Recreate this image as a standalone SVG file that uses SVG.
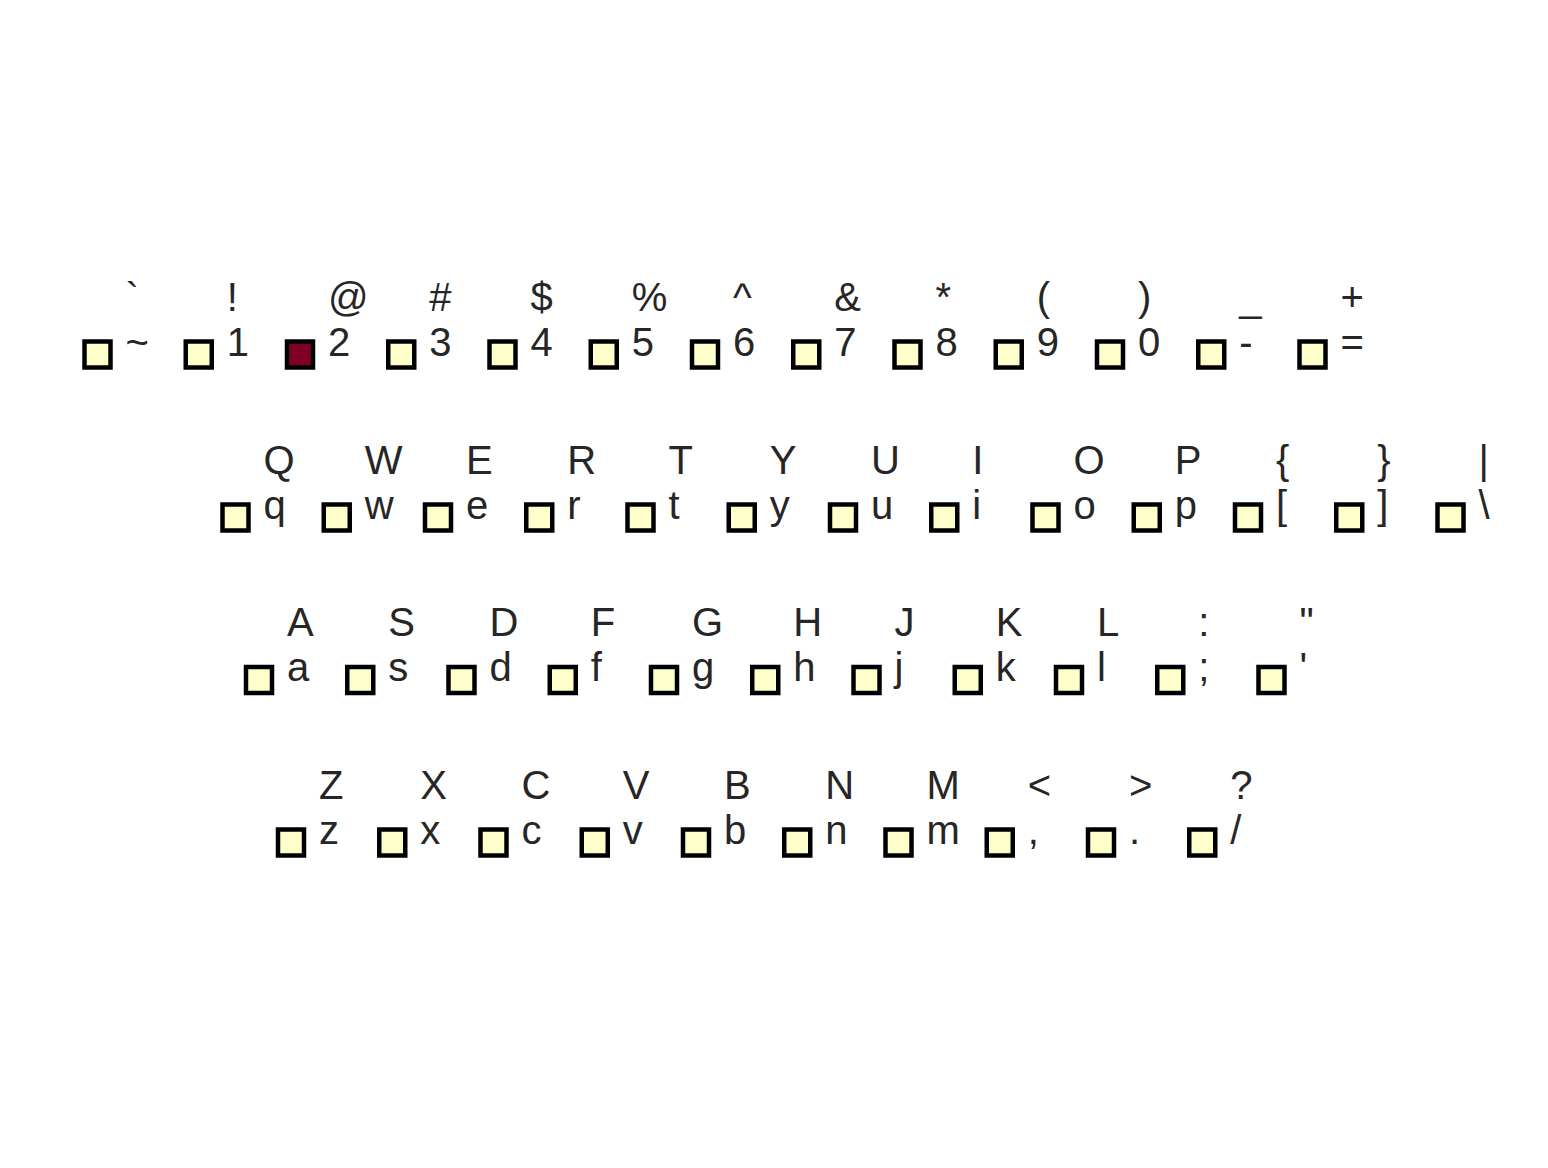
<svg xmlns="http://www.w3.org/2000/svg" width="1548" height="1168" viewBox="0 0 1548 1168">
<style>
.k{fill:#ffffcc;stroke:#000;stroke-width:4.5}
.hot{fill:#800026}
text{font-family:"Liberation Sans",Arial,sans-serif;font-size:40px;fill:#262626}
</style>
<rect width="1548" height="1168" fill="#fff"/>
<g id="connectors"/>
<g id="row1">
<g id="key-tilde"><rect class="k" x="84.5" y="341.5" width="26" height="26"/><text x="125.5" y="310.5">`</text><text x="125.5" y="355.5">~</text></g>
<g id="key-1"><rect class="k" x="185.75" y="341.5" width="26" height="26"/><text x="226.75" y="310.5">!</text><text x="226.75" y="355.5">1</text></g>
<g id="key-2"><rect class="k hot" x="287" y="341.5" width="26" height="26"/><text x="328" y="310.5">@</text><text x="328" y="355.5">2</text></g>
<g id="key-3"><rect class="k" x="388.25" y="341.5" width="26" height="26"/><text x="429.25" y="310.5">#</text><text x="429.25" y="355.5">3</text></g>
<g id="key-4"><rect class="k" x="489.5" y="341.5" width="26" height="26"/><text x="530.5" y="310.5">$</text><text x="530.5" y="355.5">4</text></g>
<g id="key-5"><rect class="k" x="590.75" y="341.5" width="26" height="26"/><text x="631.75" y="310.5">%</text><text x="631.75" y="355.5">5</text></g>
<g id="key-6"><rect class="k" x="692" y="341.5" width="26" height="26"/><text x="733" y="310.5">^</text><text x="733" y="355.5">6</text></g>
<g id="key-7"><rect class="k" x="793.25" y="341.5" width="26" height="26"/><text x="834.25" y="310.5">&amp;</text><text x="834.25" y="355.5">7</text></g>
<g id="key-8"><rect class="k" x="894.5" y="341.5" width="26" height="26"/><text x="935.5" y="310.5">*</text><text x="935.5" y="355.5">8</text></g>
<g id="key-9"><rect class="k" x="995.75" y="341.5" width="26" height="26"/><text x="1036.75" y="310.5">(</text><text x="1036.75" y="355.5">9</text></g>
<g id="key-0"><rect class="k" x="1097" y="341.5" width="26" height="26"/><text x="1138" y="310.5">)</text><text x="1138" y="355.5">0</text></g>
<g id="key-minus"><rect class="k" x="1198.25" y="341.5" width="26" height="26"/><text x="1239.25" y="310.5">_</text><text x="1239.25" y="355.5">-</text></g>
<g id="key-equals"><rect class="k" x="1299.5" y="341.5" width="26" height="26"/><text x="1340.5" y="310.5">+</text><text x="1340.5" y="355.5">=</text></g>
</g>
<g id="row2">
<g id="key-q"><rect class="k" x="222.5" y="504.5" width="26" height="26"/><text x="263.5" y="473.5">Q</text><text x="263.5" y="518.5">q</text></g>
<g id="key-w"><rect class="k" x="323.75" y="504.5" width="26" height="26"/><text x="364.75" y="473.5">W</text><text x="364.75" y="518.5">w</text></g>
<g id="key-e"><rect class="k" x="425" y="504.5" width="26" height="26"/><text x="466" y="473.5">E</text><text x="466" y="518.5">e</text></g>
<g id="key-r"><rect class="k" x="526.25" y="504.5" width="26" height="26"/><text x="567.25" y="473.5">R</text><text x="567.25" y="518.5">r</text></g>
<g id="key-t"><rect class="k" x="627.5" y="504.5" width="26" height="26"/><text x="668.5" y="473.5">T</text><text x="668.5" y="518.5">t</text></g>
<g id="key-y"><rect class="k" x="728.75" y="504.5" width="26" height="26"/><text x="769.75" y="473.5">Y</text><text x="769.75" y="518.5">y</text></g>
<g id="key-u"><rect class="k" x="830" y="504.5" width="26" height="26"/><text x="871" y="473.5">U</text><text x="871" y="518.5">u</text></g>
<g id="key-i"><rect class="k" x="931.25" y="504.5" width="26" height="26"/><text x="972.25" y="473.5">I</text><text x="972.25" y="518.5">i</text></g>
<g id="key-o"><rect class="k" x="1032.5" y="504.5" width="26" height="26"/><text x="1073.5" y="473.5">O</text><text x="1073.5" y="518.5">o</text></g>
<g id="key-p"><rect class="k" x="1133.75" y="504.5" width="26" height="26"/><text x="1174.75" y="473.5">P</text><text x="1174.75" y="518.5">p</text></g>
<g id="key-lbracket"><rect class="k" x="1235" y="504.5" width="26" height="26"/><text x="1276" y="473.5">{</text><text x="1276" y="518.5">[</text></g>
<g id="key-rbracket"><rect class="k" x="1336.25" y="504.5" width="26" height="26"/><text x="1377.25" y="473.5">}</text><text x="1377.25" y="518.5">]</text></g>
<g id="key-backslash"><rect class="k" x="1437.5" y="504.5" width="26" height="26"/><text x="1478.5" y="473.5">|</text><text x="1478.5" y="518.5">\</text></g>
</g>
<g id="row3">
<g id="key-a"><rect class="k" x="246" y="667" width="26" height="26"/><text x="287" y="636">A</text><text x="287" y="681">a</text></g>
<g id="key-s"><rect class="k" x="347.25" y="667" width="26" height="26"/><text x="388.25" y="636">S</text><text x="388.25" y="681">s</text></g>
<g id="key-d"><rect class="k" x="448.5" y="667" width="26" height="26"/><text x="489.5" y="636">D</text><text x="489.5" y="681">d</text></g>
<g id="key-f"><rect class="k" x="549.75" y="667" width="26" height="26"/><text x="590.75" y="636">F</text><text x="590.75" y="681">f</text></g>
<g id="key-g"><rect class="k" x="651" y="667" width="26" height="26"/><text x="692" y="636">G</text><text x="692" y="681">g</text></g>
<g id="key-h"><rect class="k" x="752.25" y="667" width="26" height="26"/><text x="793.25" y="636">H</text><text x="793.25" y="681">h</text></g>
<g id="key-j"><rect class="k" x="853.5" y="667" width="26" height="26"/><text x="894.5" y="636">J</text><text x="894.5" y="681">j</text></g>
<g id="key-k"><rect class="k" x="954.75" y="667" width="26" height="26"/><text x="995.75" y="636">K</text><text x="995.75" y="681">k</text></g>
<g id="key-l"><rect class="k" x="1056" y="667" width="26" height="26"/><text x="1097" y="636">L</text><text x="1097" y="681">l</text></g>
<g id="key-semicolon"><rect class="k" x="1157.25" y="667" width="26" height="26"/><text x="1198.25" y="636">:</text><text x="1198.25" y="681">;</text></g>
<g id="key-quote"><rect class="k" x="1258.5" y="667" width="26" height="26"/><text x="1299.5" y="636">"</text><text x="1299.5" y="681">'</text></g>
</g>
<g id="row4">
<g id="key-z"><rect class="k" x="278" y="829.5" width="26" height="26"/><text x="319" y="798.5">Z</text><text x="319" y="843.5">z</text></g>
<g id="key-x"><rect class="k" x="379.25" y="829.5" width="26" height="26"/><text x="420.25" y="798.5">X</text><text x="420.25" y="843.5">x</text></g>
<g id="key-c"><rect class="k" x="480.5" y="829.5" width="26" height="26"/><text x="521.5" y="798.5">C</text><text x="521.5" y="843.5">c</text></g>
<g id="key-v"><rect class="k" x="581.75" y="829.5" width="26" height="26"/><text x="622.75" y="798.5">V</text><text x="622.75" y="843.5">v</text></g>
<g id="key-b"><rect class="k" x="683" y="829.5" width="26" height="26"/><text x="724" y="798.5">B</text><text x="724" y="843.5">b</text></g>
<g id="key-n"><rect class="k" x="784.25" y="829.5" width="26" height="26"/><text x="825.25" y="798.5">N</text><text x="825.25" y="843.5">n</text></g>
<g id="key-m"><rect class="k" x="885.5" y="829.5" width="26" height="26"/><text x="926.5" y="798.5">M</text><text x="926.5" y="843.5">m</text></g>
<g id="key-comma"><rect class="k" x="986.75" y="829.5" width="26" height="26"/><text x="1027.75" y="798.5">&lt;</text><text x="1027.75" y="843.5">,</text></g>
<g id="key-period"><rect class="k" x="1088" y="829.5" width="26" height="26"/><text x="1129" y="798.5">&gt;</text><text x="1129" y="843.5">.</text></g>
<g id="key-slash"><rect class="k" x="1189.25" y="829.5" width="26" height="26"/><text x="1230.25" y="798.5">?</text><text x="1230.25" y="843.5">/</text></g>
</g>
</svg>
